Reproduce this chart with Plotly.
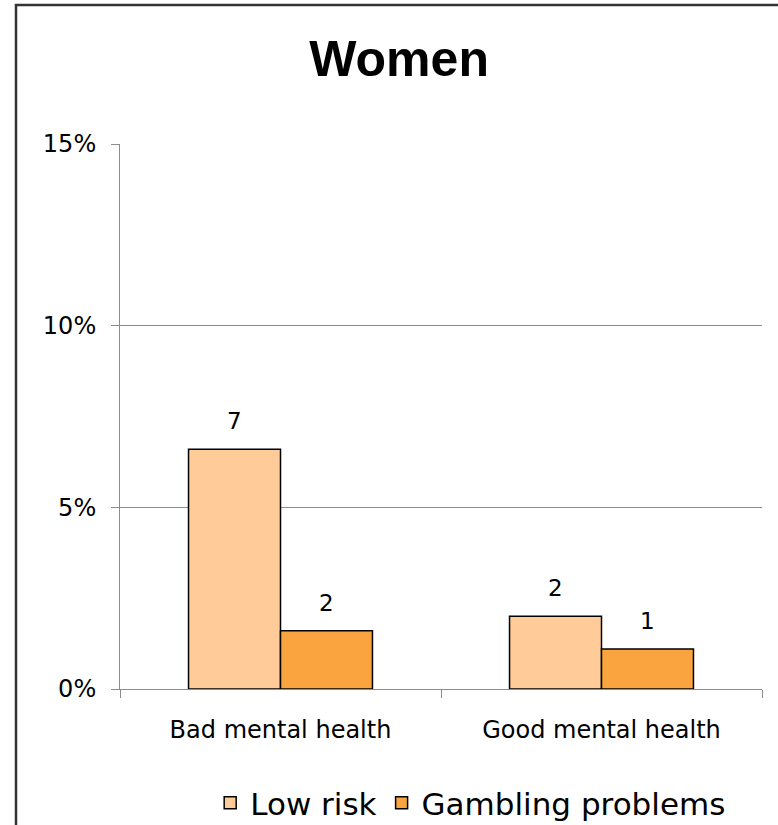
import plotly.graph_objects as go

categories = ["Bad mental health", "Good mental health"]
low_risk = [6.6, 2.0]
gambling_problems = [1.6, 1.1]
series_names = ["Low risk", "Gambling problems"]
y_ticks = [0, 5, 10, 15]
y_tick_labels = ["0%", "5%", "10%", "15%"]

colors = ["#FFCC99", "#F9A43F"]
font_family = "DejaVu Sans, Verdana, sans-serif"
bar_half_px = 46  # half bar width in pixels, for label placement

fig = go.Figure()
for name, vals, col in zip(series_names, [low_risk, gambling_problems], colors):
    fig.add_trace(go.Bar(
        name=name, x=categories, y=vals,
        marker=dict(color=col, line=dict(color="black", width=1.5)),
    ))

for shift, vals in zip([-bar_half_px, bar_half_px], [low_risk, gambling_problems]):
    for cat, v in zip(categories, vals):
        fig.add_annotation(x=cat, y=v, xref="x", yref="y", text=f"{round(v)}",
                           showarrow=False, xshift=shift, yshift=13,
                           yanchor="bottom", xanchor="center",
                           font=dict(size=23, color="black", family=font_family))

fig.update_layout(
    width=778, height=825,
    margin=dict(l=120, r=16, t=144, b=136),
    paper_bgcolor="white", plot_bgcolor="white",
    barmode="group", bargap=0.427, bargroupgap=0,
    font=dict(family=font_family, size=22, color="black"),
    title=dict(text="<b>Women</b>", x=0.513, xref="container", xanchor="center",
               y=1 - 58 / 825, yref="container", yanchor="middle",
               font=dict(family="Liberation Sans, Arial, sans-serif", size=50, color="black")),
    showlegend=True,
    legend=dict(orientation="h", x=0.605, xref="container", xanchor="center",
                y=1 - 803 / 825, yref="container", yanchor="middle",
                font=dict(size=31, color="black"), tracegroupgap=0),
)
fig.update_yaxes(range=[0, 15], tickvals=y_ticks, ticktext=y_tick_labels,
                 showgrid=True, gridcolor="#8c8c8c", gridwidth=1,
                 showline=True, linecolor="#8c8c8c", linewidth=1,
                 ticks="outside", ticklen=8, tickcolor="#8c8c8c",
                 ticklabelstandoff=10,
                 tickfont=dict(size=24), zeroline=False, fixedrange=True)
fig.update_xaxes(showline=True, linecolor="#8c8c8c", linewidth=1,
                 ticks="outside", ticklen=8, tickcolor="#8c8c8c",
                 tickson="boundaries", ticklabelstandoff=19,
                 tickfont=dict(size=24), fixedrange=True)

fig.add_shape(type="rect", xref="paper", yref="paper",
              x0=(16 - 120) / 642, x1=1.2, y0=-0.5, y1=(688.7 - 5) / 544.7,
              line=dict(color="#333333", width=2.5), fillcolor="rgba(0,0,0,0)", layer="above")

fig.write_html("out.html", config={"displayModeBar": False},
               post_script="document.body.style.margin='0';")
